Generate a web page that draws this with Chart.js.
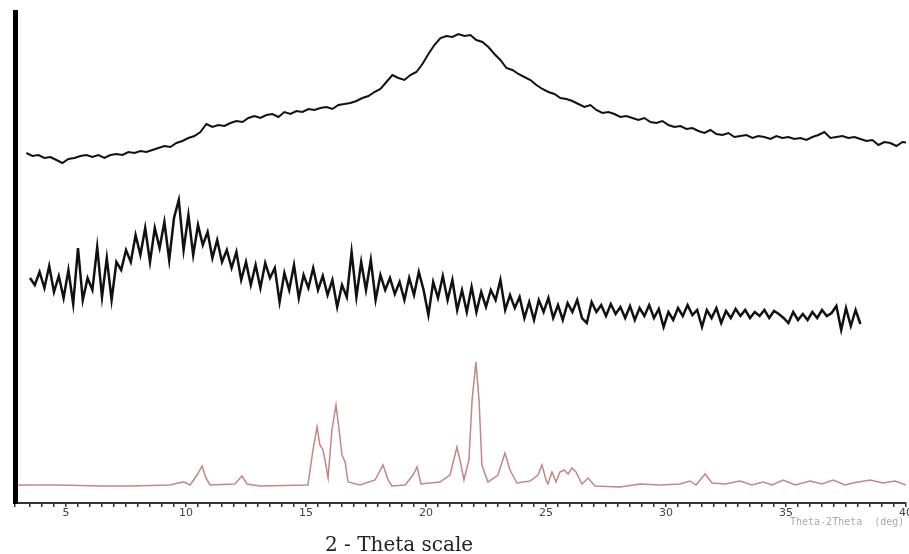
<!DOCTYPE html>
<html>
<head>
<meta charset="utf-8">
<script src="https://cdn.jsdelivr.net/npm/chart.js@4/dist/chart.umd.min.js"></script>
<style>
  html, body { margin: 0; padding: 0; background: #fff; }
  #wrap { width: 909px; height: 554px; }
</style>
</head>
<body>
<div id="wrap"><canvas id="xrd" width="909" height="554"></canvas></div>
<script>
// Top trace (amorphous halo), uniform step scan
const topStart = 3.35;
const topStep = 0.25;
const topCounts = [
  350, 347, 348, 345, 346, 343, 340, 344, 345, 347, 348, 346, 348, 345, 348, 349,
  348, 351, 350, 352, 351, 353, 355, 357, 356, 360, 362, 365, 367, 371, 379, 376,
  378, 377, 380, 382, 381, 385, 387, 385, 388, 389, 386, 391, 389, 392, 391, 394,
  393, 395, 396, 394, 398, 399, 400, 402, 405, 407, 411, 414, 421, 428, 425, 423,
  428, 431, 439, 449, 458, 465, 467, 466, 469, 467, 468, 463, 461, 456, 449, 443,
  435, 433, 429, 426, 423, 418, 414, 411, 409, 405, 404, 402, 399, 396, 398, 393,
  390, 391, 389, 386, 387, 385, 383, 385, 381, 380, 382, 378, 376, 377, 374, 375,
  372, 370, 373, 369, 368, 370, 366, 367, 368, 365, 367, 366, 364, 367, 365, 366,
  364, 365, 363, 366, 368, 371, 365, 366, 367, 365, 366, 364, 362, 363, 358, 361,
  360, 357, 361, 360
];

// Middle trace (noisy scan)
const midStart = 3.5;
const midStep = 0.2;
const midCounts = [
  225, 218, 231, 215, 237, 211, 227, 205, 233, 199, 255, 203, 225, 213, 256, 206,
  245, 203, 241, 233, 253, 241, 268, 248, 275, 241, 275, 255, 281, 243, 285, 303,
  253, 288, 248, 278, 258, 271, 245, 263, 241, 253, 235, 251, 223, 241, 218, 238,
  215, 240, 225, 235, 201, 230, 213, 238, 205, 228, 215, 235, 213, 227, 208, 223,
  196, 218, 206, 251, 206, 241, 213, 243, 203, 228, 213, 225, 209, 221, 203, 225,
  208, 231, 213, 188, 221, 205, 227, 203, 223, 193, 213, 191, 216, 191, 211, 196,
  213, 203, 223, 193, 208, 195, 206, 185, 201, 183, 203, 191, 205, 185, 198, 183,
  200, 191, 203, 185, 180, 201, 191, 198, 187, 199, 189, 196, 185, 197, 183, 195,
  187, 198, 185, 194, 176, 191, 183, 195, 187, 198, 188, 193, 176, 193, 185, 195,
  180, 192, 185, 194, 187, 193, 185, 191, 187, 193, 185, 192, 189, 185, 180, 191,
  183, 189, 183, 191, 185, 193, 187, 190, 197, 173, 195, 177, 193, 179
];

// Bottom trace (crystalline reference pattern)
const refTheta = [
  3.0, 4.75, 6.42, 7.67, 9.33, 9.67, 9.92, 10.17, 10.46, 10.67, 10.83, 11.0,
  12.04, 12.33, 12.54, 13.08, 15.08, 15.29, 15.46, 15.58, 15.71, 15.79, 15.92,
  16.08, 16.25, 16.38, 16.5, 16.63, 16.75, 17.25, 17.88, 18.21, 18.42, 18.58,
  19.13, 19.46, 19.63, 19.79, 20.58, 21.0, 21.29, 21.46, 21.58, 21.79, 21.92,
  22.08, 22.21, 22.33, 22.58, 23.0, 23.29, 23.5, 23.79, 24.33, 24.67, 24.83,
  25.0, 25.08, 25.25, 25.42, 25.58, 25.75, 25.92, 26.08, 26.25, 26.5, 26.75,
  27.04, 28.08, 28.92, 29.75, 30.58, 31.0, 31.25, 31.63, 31.92, 32.46, 33.08,
  33.58, 34.04, 34.42, 34.88, 35.38, 36.0, 36.5, 36.96, 37.46, 37.79, 38.5,
  39.04, 39.54, 40.0
];
const refCounts = [
  18, 18, 17, 17, 18, 20, 21, 18, 28, 37, 25, 18,
  19, 27, 19, 17, 18, 53, 76, 58, 53, 43, 25,
  73, 98, 73, 48, 41, 21, 18, 23, 38, 23, 17,
  18, 28, 36, 19, 21, 28, 56, 38, 23, 43, 103,
  141, 103, 38, 21, 28, 50, 33, 20, 22, 28, 38,
  23, 19, 31, 21, 31, 33, 29, 35, 31, 19, 25,
  17, 16, 19, 18, 19, 22, 18, 29, 20, 19, 22,
  18, 21, 18, 23, 18, 22, 19, 23, 18, 20, 23,
  20, 22, 18
];

const serie = (start, step, counts) => counts.map((c, i) => ({ x: start + i * step, y: c }));

const topData = serie(topStart, topStep, topCounts);
const midData = serie(midStart, midStep, midCounts);
const refData = refTheta.map((t, i) => ({ x: t, y: refCounts[i] }));

// Textos del eje dibujados a mano
const textosEje = {
  id: 'textosEje',
  afterDraw(chart) {
    const c = chart.ctx;
    c.save();
    c.fillStyle = '#222';
    c.font = '20px "DejaVu Serif"';
    c.textBaseline = 'alphabetic';
    c.fillText('2 - Theta scale', 325, 551);
    c.fillStyle = '#aaa';
    c.font = '10px "DejaVu Sans Mono"';
    c.fillText('Theta-2Theta  (deg)', 790, 525);
    c.restore();
  }
};

new Chart(document.getElementById('xrd'), {
  type: 'line',
  data: {
    datasets: [
      { label: 'top', data: topData, borderColor: '#111', borderWidth: 2, pointRadius: 0, tension: 0 },
      { label: 'mid', data: midData, borderColor: '#111', borderWidth: 2.5, pointRadius: 0, tension: 0 },
      { label: 'ref', data: refData, borderColor: '#c58585', borderWidth: 1.5, pointRadius: 0, tension: 0 }
    ]
  },
  options: {
    responsive: false,
    animation: false,
    layout: { padding: { left: 15, right: 3, top: 12, bottom: 0 } },
    plugins: { legend: { display: false }, tooltip: { enabled: false } },
    scales: {
      x: {
        type: 'linear',
        min: 2.875,
        max: 40,
        border: { display: true, color: '#333', width: 2, dash: [3, 2] },
        grid: { display: true, drawOnChartArea: false, drawTicks: true, tickLength: 4, color: '#333', lineWidth: 1.5 },
        ticks: {
          stepSize: 0.5,
          autoSkip: false,
          maxRotation: 0,
          padding: 0,
          color: '#444',
          font: { family: 'DejaVu Sans', size: 11 },
          callback: v => (v % 5 === 0 ? v : '')
        },
        afterFit: s => { s.height = 51; s.paddingLeft = 0; s.paddingRight = 0; }
      },
      y: {
        min: 0,
        max: 491,
        border: { display: true, color: '#000', width: 5 },
        grid: { display: false, drawTicks: false },
        ticks: { display: false },
        afterFit: s => { s.width = 0; }
      }
    }
  },
  plugins: [textosEje]
});
</script>
</body>
</html>
